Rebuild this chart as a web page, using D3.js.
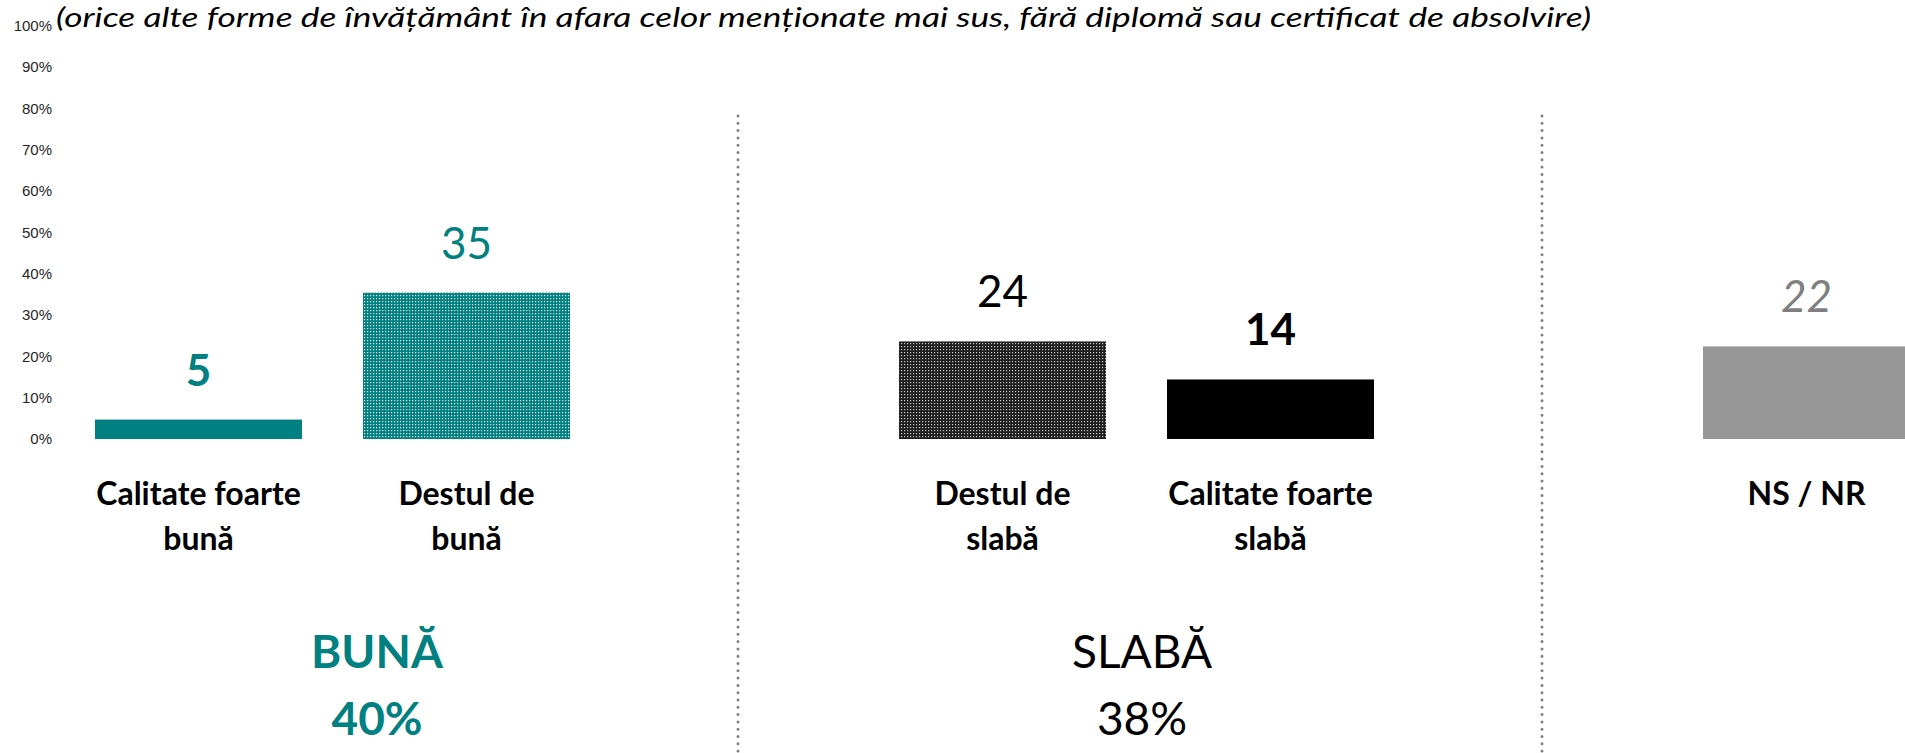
<!DOCTYPE html>
<html>
<head>
<meta charset="utf-8">
<script src="https://cdn.jsdelivr.net/npm/d3@7"></script>
<style>
  html, body { margin: 0; padding: 0; background: #fff; overflow: hidden; }
  svg { display: block; }
</style>
</head>
<body>
<svg id="chart" width="1905" height="753"></svg>
<script>
// ---------------- DATA ----------------
const title = "(orice alte forme de învățământ în afara celor menționate mai sus, fără diplomă sau certificat de absolvire)";
const groups = ["bun", "slab", "ns"];
const categories = ["Calitate foarte bună", "Destul de bună", "Destul de slabă", "Calitate foarte slabă", "NS / NR"];
const categoryLines = [["Calitate foarte", "bună"], ["Destul de", "bună"], ["Destul de", "slabă"], ["Calitate foarte", "slabă"], ["NS / NR"]];
const categoryGroup = ["bun", "bun", "slab", "slab", "ns"];
const values = [4.7, 35.4, 23.6, 14.4, 22.4];
const valueLabels = ["5", "35", "24", "14", "22"];
const yTicks = [0, 10, 20, 30, 40, 50, 60, 70, 80, 90, 100];
const summaryGroups = ["bun", "slab"];
const summaryNames = ["BUNĂ", "SLABĂ"];
const summaryValues = ["40%", "38%"];

// ---------------- STYLES / LAYOUT ----------------
const TEAL = "#008080";
const barFill = ["solid-teal", "pat-teal", "pat-dark", "solid-black", "solid-gray"];
const labelStyle = [
  { color: TEAL, weight: 700, style: "normal" },
  { color: TEAL, weight: 400, style: "normal" },
  { color: "#000", weight: 400, style: "normal" },
  { color: "#000", weight: 700, style: "normal" },
  { color: "#7f7f7f", weight: 400, style: "italic" }
];
const summaryStyle = [
  { color: TEAL, weight: 700, dx: 282 },
  { color: "#000", weight: 400, dx: 243 }
];

const svg = d3.select("#chart");
const FONT = "Lato, 'Open Sans', sans-serif";

// patterns
const defs = svg.append("defs");
function dotPattern(id, base, dot) {
  const p = defs.append("pattern").attr("id", id)
    .attr("patternUnits", "userSpaceOnUse").attr("width", 3).attr("height", 3);
  p.append("rect").attr("width", 3).attr("height", 3).attr("fill", base);
  p.append("rect").attr("x", 1).attr("y", 1).attr("width", 1.2).attr("height", 1.2).attr("fill", dot);
}
dotPattern("pat-teal", TEAL, "#e8f4f4");
dotPattern("pat-dark", "#1e1e1e", "#c8c8c8");
const solidFill = { "solid-teal": TEAL, "solid-black": "#000000", "solid-gray": "#969696" };
const fillOf = k => solidFill[k] ? solidFill[k] : `url(#${k})`;

// scales
const y = d3.scaleLinear().domain([0, 100]).range([439, 25.5]);
const xGroup = d3.scaleBand().domain(groups).range([95, 95 + 3 * 804]).padding(0);
const slotStep = 268, barW = 207;
const xInner = d3.scaleBand().domain([0, 1])
  .range([0, slotStep * (2 - (slotStep - barW) / slotStep)])
  .paddingInner((slotStep - barW) / slotStep).paddingOuter(0);

const idxInGroup = categories.map((c, i) => categoryGroup.slice(0, i).filter(g => g === categoryGroup[i]).length);
const barX = i => xGroup(categoryGroup[i]) + xInner(idxInGroup[i]);
const barCx = i => barX(i) + xInner.bandwidth() / 2;

// title
svg.append("text")
  .attr("x", 56).attr("y", 27)
  .attr("font-family", FONT).attr("font-style", "italic")
  .attr("font-size", 27).attr("fill", "#000")
  .attr("textLength", 1535).attr("lengthAdjust", "spacingAndGlyphs")
  .text(title);

// y axis (labels only)
const yAxis = d3.axisLeft(y).tickValues(yTicks).tickFormat(d => d + "%").tickSize(0).tickPadding(0);
const yg = svg.append("g").attr("transform", "translate(52,0)").call(yAxis);
yg.select(".domain").remove();
yg.selectAll("text")
  .attr("font-family", "'Liberation Sans', Arial, sans-serif")
  .attr("font-size", 15).attr("fill", "#262626");

// dividers
groups.slice(1).forEach(g => {
  svg.append("line")
    .attr("x1", xGroup(g) - 161).attr("x2", xGroup(g) - 161)
    .attr("y1", 116).attr("y2", 753)
    .attr("stroke", "#808080").attr("stroke-width", 3)
    .attr("stroke-linecap", "round").attr("stroke-dasharray", "0 7.3");
});

// bars
svg.append("g").selectAll("rect").data(values).join("rect")
  .attr("x", (d, i) => barX(i))
  .attr("y", d => y(d))
  .attr("width", xInner.bandwidth())
  .attr("height", d => y(0) - y(d))
  .attr("fill", (d, i) => fillOf(barFill[i]));

// value labels
svg.append("g").selectAll("text").data(values).join("text")
  .attr("x", (d, i) => barCx(i))
  .attr("y", d => y(d) - 34)
  .attr("text-anchor", "middle")
  .attr("font-family", FONT)
  .attr("font-size", 44)
  .attr("font-weight", (d, i) => labelStyle[i].weight)
  .attr("font-style", (d, i) => labelStyle[i].style)
  .attr("fill", (d, i) => labelStyle[i].color)
  .text((d, i) => valueLabels[i]);

// category labels
const cg = svg.append("g").selectAll("text").data(categories).join("text")
  .attr("text-anchor", "middle")
  .attr("font-family", FONT).attr("font-weight", 700)
  .attr("font-size", 32).attr("fill", "#000");
cg.each(function (d, i) {
  const t = d3.select(this);
  categoryLines[i].forEach((ln, k) => {
    t.append("tspan").attr("x", barCx(i)).attr("y", 505 + k * 45).text(ln);
  });
});

// summary labels
summaryGroups.forEach((g, i) => {
  const cx = xGroup(g) + summaryStyle[i].dx;
  svg.append("text").attr("x", cx).attr("y", 668)
    .attr("text-anchor", "middle").attr("font-family", FONT)
    .attr("font-size", 46).attr("font-weight", summaryStyle[i].weight)
    .attr("fill", summaryStyle[i].color).text(summaryNames[i]);
  svg.append("text").attr("x", cx).attr("y", 735)
    .attr("text-anchor", "middle").attr("font-family", FONT)
    .attr("font-size", 46).attr("font-weight", summaryStyle[i].weight)
    .attr("fill", summaryStyle[i].color).text(summaryValues[i]);
});
</script>
</body>
</html>
